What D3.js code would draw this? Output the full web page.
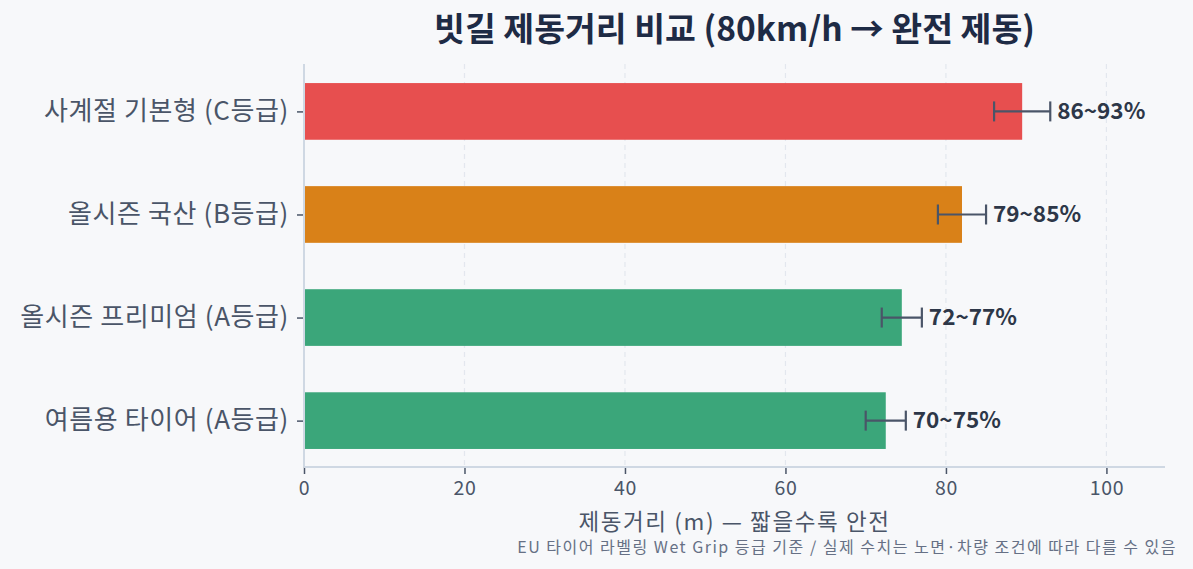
<!DOCTYPE html>
<html><head><meta charset="utf-8">
<script src="https://cdn.jsdelivr.net/npm/d3@7/dist/d3.min.js"></script>
<style>
html,body{margin:0;padding:0;background:#f7f8fa;}
svg{display:block;font-family:"Noto Sans CJK KR","Noto Sans",sans-serif;}
</style></head><body>
<svg id="c" width="1193" height="569"></svg>
<script>
const categories = ["사계절 기본형 (C등급)", "올시즌 국산 (B등급)", "올시즌 프리미엄 (A등급)", "여름용 타이어 (A등급)"];
const values = [89.5, 82, 74.5, 72.5];
const lows = [86, 79, 72, 70];
const highs = [93, 85, 77, 75];
const rangeLabels = ["86~93%", "79~85%", "72~77%", "70~75%"];
const colors = ["#e74f4f", "#d98118", "#3ba67a", "#3ba67a"];
const xTicks = [0, 20, 40, 60, 80, 100];

const FF = "'Noto Sans CJK KR','Noto Sans',sans-serif";
const svg = d3.select("#c");
const W = 1193, H = 569;
svg.append("rect").attr("width", W).attr("height", H).attr("fill", "#f7f8fa");
const L = 304, R = 1165, T = 64, B = 467;
const x = d3.scaleLinear().domain([0, 107.3]).range([L, R]);
const y = d3.scaleLinear().domain([-0.46, 3.45]).range([T, B]);
const bh = y(0.55) - y(0);

// grid
svg.append("g").selectAll("line").data(xTicks.filter(d => d > 0)).join("line")
  .attr("x1", d => x(d)).attr("x2", d => x(d)).attr("y1", T).attr("y2", B)
  .attr("stroke", "#e3e7ee").attr("stroke-width", 1.2).attr("stroke-dasharray", "5,4");

// bars
svg.append("g").selectAll("rect").data(values).join("rect")
  .attr("x", x(0)).attr("y", (d, i) => y(i) - bh / 2)
  .attr("width", d => x(d) - x(0)).attr("height", bh)
  .attr("fill", (d, i) => colors[i]);

// error bars
const eg = svg.append("g").attr("stroke", "#4a5568").attr("stroke-width", 2.2).attr("fill", "none");
values.forEach((v, i) => {
  const cy = y(i);
  eg.append("line").attr("x1", x(lows[i])).attr("x2", x(highs[i])).attr("y1", cy).attr("y2", cy);
  eg.append("line").attr("x1", x(lows[i])).attr("x2", x(lows[i])).attr("y1", cy - 10).attr("y2", cy + 10);
  eg.append("line").attr("x1", x(highs[i])).attr("x2", x(highs[i])).attr("y1", cy - 10).attr("y2", cy + 10);
});

// value labels
svg.append("g").selectAll("text").data(rangeLabels).join("text")
  .attr("x", (d, i) => x(highs[i]) + 7).attr("y", (d, i) => y(i))
  .attr("dy", "0.35em").attr("font-size", 22.5).attr("font-weight", "bold")
  .attr("fill", "#2d3748").text(d => d);

// x axis
const xa = svg.append("g").attr("transform", `translate(0,${B})`)
  .call(d3.axisBottom(x).tickValues(xTicks).tickSize(7).tickPadding(7).tickFormat(d3.format("d")));
xa.select(".domain").remove();
xa.selectAll(".tick line").attr("stroke", "#4a5568").attr("stroke-width", 1.5);
xa.selectAll(".tick text").attr("fill", "#4a5568").attr("font-size", 19.5).attr("letter-spacing", 0.6).attr("font-family", FF);
svg.append("line").attr("x1", L).attr("x2", R).attr("y1", B).attr("y2", B).attr("stroke", "#cfd8e3").attr("stroke-width", 2);

// y axis
const ya = svg.append("g").attr("transform", `translate(${L},0)`)
  .call(d3.axisLeft(y).tickValues(d3.range(categories.length)).tickSize(7).tickPadding(8).tickFormat(i => categories[i]));
ya.select(".domain").remove();
ya.selectAll(".tick line").attr("stroke", "#4a5568").attr("stroke-width", 1.5);
ya.selectAll(".tick text").attr("fill", "#4a5568").attr("font-size", 26).attr("letter-spacing", 0.6).attr("font-family", FF);
svg.append("line").attr("x1", L).attr("x2", L).attr("y1", T).attr("y2", B).attr("stroke", "#cfd8e3").attr("stroke-width", 2);

// title
svg.append("text").attr("x", (L + R) / 2).attr("y", 41).attr("text-anchor", "middle")
  .attr("font-size", 33.5).attr("font-weight", "bold").attr("fill", "#1e2b45")
  .text("빗길 제동거리 비교 (80km/h → 완전 제동)");

// x label
svg.append("text").attr("x", (L + R) / 2).attr("y", 530).attr("text-anchor", "middle")
  .attr("font-size", 22.5).attr("letter-spacing", 1.6).attr("fill", "#4a5568").text("제동거리 (m) — 짧을수록 안전");

// footnote
svg.append("text").attr("x", 1177).attr("y", 553).attr("text-anchor", "end")
  .attr("font-size", 16).attr("letter-spacing", 1.5).attr("fill", "#667085")
  .text("EU 타이어 라벨링 Wet Grip 등급 기준 / 실제 수치는 노면·차량 조건에 따라 다를 수 있음");
</script>
</body></html>
